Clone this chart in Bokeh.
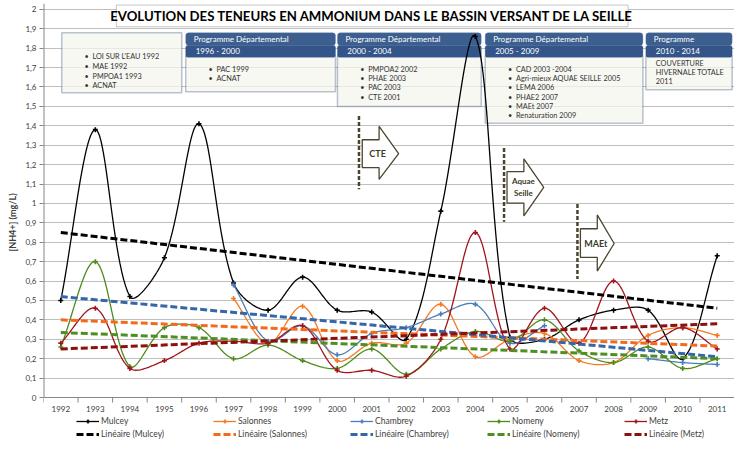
import numpy as np
from bokeh.plotting import figure
from bokeh.models import (Range1d, FixedTicker, CustomJSTickFormatter, Legend,
                          LegendItem, BoxAnnotation, Label)
from bokeh.core.properties import value
from bokeh.embed import file_html
from bokeh.resources import INLINE

nan = float("nan")

# ---------------- data ----------------
years = list(range(1992, 2012))
mulcey = [0.50, 1.38, 0.52, 0.72, 1.41, 0.59, 0.45, 0.62, 0.45, 0.44,
          0.30, 0.96, 1.86, 0.31, 0.30, 0.40, 0.45, 0.45, 0.20, 0.73]
salonnes = [nan, nan, nan, nan, nan, 0.51, 0.28, 0.47, 0.19, 0.28,
            0.28, 0.48, 0.21, 0.30, 0.33, 0.19, 0.18, 0.32, 0.36, 0.32]
chambrey = [nan, nan, nan, nan, nan, 0.58, 0.29, 0.37, 0.22, 0.33,
            0.36, 0.43, 0.48, 0.28, 0.37, nan, nan, 0.20, 0.18, 0.17]
nomeny = [0.26, 0.70, 0.16, 0.36, 0.36, 0.20, 0.27, 0.19, 0.15, 0.25,
          0.12, 0.25, 0.34, 0.29, 0.40, 0.24, 0.18, 0.26, 0.15, 0.20]
metz = [0.28, 0.46, 0.15, 0.19, 0.28, 0.29, 0.28, 0.37, 0.14, 0.14,
        0.11, 0.30, 0.85, 0.25, 0.46, 0.28, 0.60, 0.29, 0.36, 0.25]

series_names = ["Mulcey", "Salonnes", "Chambrey", "Nomeny", "Metz"]
series_values = [mulcey, salonnes, chambrey, nomeny, metz]
series_colors = ["#000000", "#F47920", "#4A7EBB", "#4F8A1C", "#A0161B"]
trend_colors = ["#000000", "#F26B1D", "#3566AA", "#4E8F23", "#8E0F0F"]
# linear trend lines (value at 1992, value at 2011)
trend_1992 = [0.85, 0.40, 0.52, 0.335, 0.25]
trend_2011 = [0.46, 0.265, 0.21, 0.20, 0.38]

y_ticks = [round(i * 0.1, 1) for i in range(21)]

title_text = "EVOLUTION DES TENEURS EN AMMONIUM DANS LE BASSIN VERSANT DE LA SEILLE"
y_label = "[NH4+] (mg/L)"
box1_items = ["LOI SUR L'EAU 1992", "MAE 1992", "PMPOA1 1993", "ACNAT"]
prog_headers = ["Programme Départemental", "Programme Départemental",
                "Programme Départemental", "Programme"]
prog_periods = ["1996 - 2000", "2000 - 2004", "2005 - 2009", "2010 - 2014"]
prog_items = [["PAC 1999", "ACNAT"],
              ["PMPOA2 2002", "PHAE 2003", "PAC 2003", "CTE 2001"],
              ["CAD 2003 -2004", "Agri-mieux AQUAE SEILLE 2005", "LEMA 2006",
               "PHAE2 2007", "MAEt 2007", "Renaturation 2009"],
              ["COUVERTURE", "HIVERNALE TOTALE", "2011"]]
prog_bullets = [True, True, True, False]
arrow_labels = [["CTE"], ["Aquae", "Seille"], ["MAEt"]]

FONT = "Lato"
AXIS_COL = "#868686"
TXT_COL = "#404040"

# frame geometry: y=0 sits 44 px above the frame bottom (room for labels + legend)
FIG_W, FIG_H = 734, 443
TOP_B, BOT_B, LEFT_B, RIGHT_B = 3, 2, 43, 0
Y_TOP = 2.03
ZERO_PX = 397  # figure pixel row of y=0
PX_PER_UNIT = (ZERO_PX - TOP_B) / Y_TOP
Y_BOTTOM = -(FIG_H - BOT_B - ZERO_PX) / PX_PER_UNIT


# --- helpers: reference-pixel layout -> data coordinates (decorations only)
def fx(px):
    return (px - 61.0) / 34.84


def fy(py):
    return (403.3 - py) / 197.0


def smooth(xs, ys, n=24, sx=34.84, sy=197.0):
    """Excel-like smoothed line: cubic Bezier, tangents weighted by chord lengths."""
    runs, cur = [], []
    for x, y in zip(xs, ys):
        if y is None or np.isnan(y):
            if cur:
                runs.append(cur)
                cur = []
        else:
            cur.append((x, y))
    if cur:
        runs.append(cur)
    ox, oy = [], []
    scale = np.array([sx, sy])
    for run in runs:
        P = np.array(run, float)
        m = len(P)
        if ox:
            ox.append(nan)
            oy.append(nan)
        if m == 1:
            ox.append(P[0, 0]); oy.append(P[0, 1])
            continue

        def dist(a, b):
            return float(np.hypot(*((b - a) * scale)))

        for i in range(m - 1):
            P0 = P[i - 1] if i > 0 else P[i]
            P1, P2 = P[i], P[i + 1]
            P3 = P[i + 2] if i + 2 < m else P[i + 1]
            d01, d12, d23 = dist(P0, P1), dist(P1, P2), dist(P2, P3)
            w1 = d12 / (d01 + d12) if (d01 + d12) > 0 else 0.5
            w2 = d12 / (d12 + d23) if (d12 + d23) > 0 else 0.5
            f = 1.0 / 3.0
            C1 = P1 + (P2 - P0) * w1 * f
            C2 = P2 - (P3 - P1) * w2 * f
            t = np.linspace(0, 1, n)[:, None]
            if i > 0:
                t = t[1:]
            B = ((1 - t) ** 3) * P1 + 3 * ((1 - t) ** 2) * t * C1 + \
                3 * (1 - t) * (t ** 2) * C2 + (t ** 3) * P2
            ox.extend(B[:, 0].tolist())
            oy.extend(B[:, 1].tolist())
    return ox, oy


p = figure(width=FIG_W, height=FIG_H, output_backend="svg", toolbar_location=None,
           x_range=Range1d(-0.5, 19.5), y_range=Range1d(Y_BOTTOM, Y_TOP),
           min_border_left=LEFT_B, min_border_right=RIGHT_B, min_border_top=TOP_B,
           min_border_bottom=BOT_B)
p.outline_line_color = None
p.background_fill_color = "white"
p.border_fill_color = "white"

p.xgrid.visible = False
p.xaxis.visible = False
p.ygrid.ticker = FixedTicker(ticks=y_ticks)
p.ygrid.grid_line_color = "#BFBFBF"
p.ygrid.grid_line_width = 1

p.yaxis.ticker = FixedTicker(ticks=y_ticks)
p.yaxis.formatter = CustomJSTickFormatter(
    code="return (Math.round(tick*10)/10).toString().replace('.', ',');")
p.yaxis.axis_label = y_label
p.yaxis.axis_label_text_font = FONT
p.yaxis.axis_label_text_font_size = "9px"
p.yaxis.axis_label_text_font_style = "bold"
p.yaxis.axis_label_text_color = TXT_COL
p.yaxis.axis_label_standoff = 4
p.yaxis.major_label_standoff = 3
p.yaxis.major_tick_out = 4
p.yaxis.major_tick_in = 0
p.yaxis.minor_tick_line_color = None
p.yaxis.axis_line_color = None
p.yaxis.major_tick_line_color = AXIS_COL
p.yaxis.major_label_text_font = FONT
p.yaxis.major_label_text_font_size = "8px"
p.yaxis.major_label_text_color = TXT_COL

# y axis line (0 .. top) and x axis drawn by hand at y = 0
p.line([-0.5, -0.5], [0, Y_TOP], line_color=AXIS_COL, line_width=2)
p.line([-0.5, 19.5], [0, 0], line_color=AXIS_COL, line_width=1)
bounds = [i - 0.5 for i in range(len(years) + 1)]
p.segment(x0=bounds, y0=[0] * len(bounds), x1=bounds,
          y1=[-5.0 / PX_PER_UNIT] * len(bounds), line_color=AXIS_COL, line_width=1)
xidx = list(range(len(years)))
p.text(x=xidx, y=[0] * len(years), text=[str(y) for y in years], y_offset=8,
       text_font=value(FONT), text_font_size="8px", text_color=TXT_COL,
       text_align="center", text_baseline="top")

# ---------------- programme boxes ----------------
BODY_FILL = "#F5F5EF"
BORDER = "#1F3A6B"
HEAD_FILL = "#3D5F8F"
HEAD2_FILL = "#34558A"
ITEM_SIZE = "7.3px"

p.add_layout(BoxAnnotation(left=fx(62), right=fx(183), top=fy(33), bottom=fy(94),
                           fill_color=BODY_FILL, fill_alpha=0.75,
                           line_color=BORDER, line_width=1.5, level="underlay"))
for k, it in enumerate(box1_items):
    yy = fy(57.5 + 9.8 * k)
    p.text(x=[fx(87)], y=[yy], text=["•"], text_font=value(FONT),
           text_font_size=ITEM_SIZE, text_color="#333333", text_align="center",
           text_baseline="middle")
    p.text(x=[fx(93)], y=[yy], text=[it], text_font=value(FONT),
           text_font_size=ITEM_SIZE, text_color="#333333", text_baseline="middle")

prog_left = [187, 340, 489, 651]
prog_right = [338, 485, 648, 738]
prog_bottom = [93, 108, 125, 91]
for j in range(4):
    L, R, Bt = prog_left[j], prog_right[j], prog_bottom[j]
    p.add_layout(BoxAnnotation(left=fx(L), right=fx(R), top=fy(57), bottom=fy(Bt),
                               fill_color=BODY_FILL, fill_alpha=0.75,
                               line_color=BORDER, line_width=1.5, level="underlay"))
    p.add_layout(BoxAnnotation(left=fx(L), right=fx(R), top=fy(33), bottom=fy(46),
                               fill_color=HEAD_FILL, fill_alpha=1.0,
                               line_color="#5A78A8", line_width=1, level="underlay",
                               border_radius=3))
    p.add_layout(BoxAnnotation(left=fx(L), right=fx(R), top=fy(46), bottom=fy(58),
                               fill_color=HEAD2_FILL, fill_alpha=1.0,
                               line_color="#2A4878", line_width=1, level="underlay",
                               border_radius=2))
    p.text(x=[fx(L + 8)], y=[fy(39.5)], text=[prog_headers[j]], text_font=value(FONT),
           text_font_size="8px", text_color="white", text_baseline="middle")
    p.text(x=[fx(L + 10)], y=[fy(52)], text=[prog_periods[j]], text_font=value(FONT),
           text_font_size="8px", text_color="white", text_baseline="middle")
    for k, it in enumerate(prog_items[j]):
        if prog_bullets[j]:
            yy = fy(70 + 9.5 * k)
            p.text(x=[fx(L + 25)], y=[yy], text=["•"], text_font=value(FONT),
                   text_font_size=ITEM_SIZE, text_color="#333333", text_align="center",
                   text_baseline="middle")
            p.text(x=[fx(L + 31)], y=[yy], text=[it], text_font=value(FONT),
                   text_font_size=ITEM_SIZE, text_color="#333333", text_baseline="middle")
        else:
            yy = fy(64 + 9 * k)
            p.text(x=[fx(L + 10)], y=[yy], text=[it], text_font=value(FONT),
                   text_font_size=ITEM_SIZE, text_color="#333333", text_baseline="middle")

# ---------------- arrows ----------------
ARROW_COL = "#4B4530"
arrow_geo = [  # dash_x, dash_top, dash_bottom, L, H, T, tip_y, body_top, body_bot, head_top, head_bot
    (361.7, 117.7, 192, 365, 382, 401.7, 155.7, 141.7, 170, 128, 182),
    (508, 150, 225, 511, 528, 548, 190, 174, 206, 161, 219),
    (582, 207, 283, 585, 602, 619, 247, 232, 261, 218, 275),
]
for g, labs in zip(arrow_geo, arrow_labels):
    dxp, dt, db, L, H, T, ty, bt, bb, ht, hb = g
    p.line([fx(dxp), fx(dxp)], [fy(dt), fy(db)], line_color=ARROW_COL,
           line_width=2.5, line_dash="4 2")
    xs = [fx(v) for v in (L, H, H, T, H, H, L)]
    ys = [fy(v) for v in (bt, bt, ht, ty, hb, bb, bb)]
    p.patch(xs, ys, fill_color="white", line_color=ARROW_COL, line_width=1.3)
    cx = (L + H + 6) / 2.0
    if len(labs) == 1:
        p.text(x=[fx(cx + 4)], y=[fy(ty)], text=[labs[0]], text_font=value(FONT),
               text_font_size="9px", text_font_style="bold", text_color="#3A3A2A",
               text_align="center", text_baseline="middle")
    else:
        for k, lb in enumerate(labs):
            p.text(x=[fx(cx + 5)], y=[fy(ty - 6 + 12 * k)], text=[lb],
                   text_font=value(FONT), text_font_size="8px",
                   text_font_style="bold", text_color="#3A3A2A",
                   text_align="center", text_baseline="middle")

# ---------------- series ----------------
line_rs, pt_rs, trend_rs = [], [], []
for name, vals, col in zip(series_names, series_values, series_colors):
    sx, sy = smooth(xidx, vals)
    lr = p.line(sx, sy, line_color=col, line_width=1.3)
    pr = p.scatter(xidx, vals, marker="cross", size=5, line_color=col, line_width=1.6)
    line_rs.append(lr)
    pt_rs.append(pr)
for name, tcol, t0, t1 in zip(series_names, trend_colors, trend_1992, trend_2011):
    tr = p.line([0, len(years) - 1], [t0, t1], line_color=tcol, line_width=3,
                line_dash="7 3")
    trend_rs.append(tr)

# ---------------- title ----------------
p.add_layout(BoxAnnotation(left=fx(117), right=fx(633), top=fy(5), bottom=fy(27),
                           fill_color="white", fill_alpha=1.0, line_color=TXT_COL,
                           line_width=1))
p.add_layout(Label(x=fx(375), y=fy(16), text=title_text, text_font=FONT,
                   text_font_size="13.2px", text_font_style="bold", text_color="black",
                   text_align="center", text_baseline="middle"))

# ---------------- legends (inside the frame, below the x axis) ----------------
common = dict(orientation="horizontal", glyph_width=23, glyph_height=10,
              label_standoff=2, label_width=112, spacing=0, padding=0, margin=0,
              background_fill_alpha=0, border_line_color=None,
              label_text_font=FONT, label_text_font_size="8.5px",
              label_text_color=TXT_COL, label_height=12)
leg1 = Legend(items=[LegendItem(label=n, renderers=[lr, pr])
                     for n, lr, pr in zip(series_names, line_rs, pt_rs)],
              location=(33, 14), **common)
leg2 = Legend(items=[LegendItem(label=f"Linéaire ({n})", renderers=[tr])
                     for n, tr in zip(series_names, trend_rs)],
              location=(33, 1), **common)
p.add_layout(leg1)
p.add_layout(leg2)

open("out.html", "w").write(file_html(p, INLINE))
